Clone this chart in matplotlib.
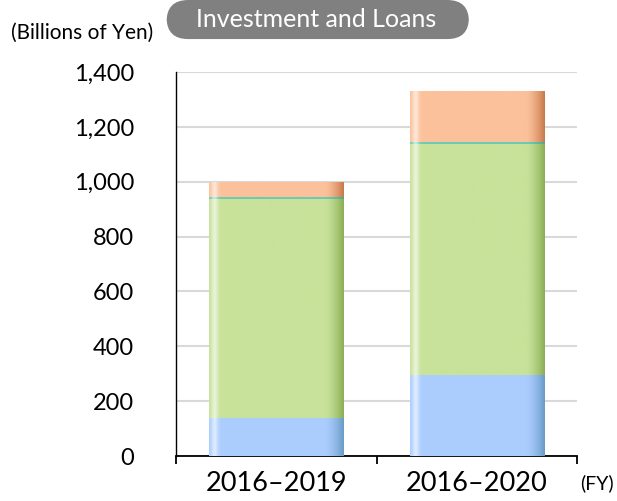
import numpy as np
import matplotlib
matplotlib.use("Agg")
import matplotlib.pyplot as plt
from matplotlib.colors import to_rgb
from matplotlib.patches import FancyBboxPatch

plt.rcParams['font.family'] = ['Lato', 'DejaVu Sans']

# data (billions of yen)
periods = ['2016\u20132019', '2016\u20132020']
blue_vals = [140, 295]
green_vals = [798, 843]
teal_vals = [5, 5]
orange_vals = [57, 188]

# base colour, right-edge dark colour
layers = [
    (blue_vals, '#abcdfe', '#6a9cc8'),
    (green_vals, '#c8e29a', '#8aae55'),
    (teal_vals, '#6ccbb0', '#4fa890'),
    (orange_vals, '#fbc19b', '#c8794a'),
]

fig = plt.figure(figsize=(6.17, 5.01), dpi=100)
ax = fig.add_axes([0.2853, 0.0898, 0.6499, 0.7665])

x = np.arange(len(periods))
bottom = np.zeros(len(periods))


def shade(patch, base, dark):
    # horizontal gradient: light strip on the left, darker toward the right
    n = 200
    t = np.linspace(0, 1, n)
    b = np.array(to_rgb(base))
    d = np.array(to_rgb(dark))
    w = np.ones(3)
    img = np.tile(b, (n, 1))
    hl = np.exp(-((t - 0.04) / 0.025) ** 2)
    img = img * (1 - 0.6 * hl[:, None]) + w * 0.6 * hl[:, None]
    dk = np.clip((t - 0.86) / 0.14, 0, 1) ** 1.5
    img = img * (1 - dk[:, None]) + d * dk[:, None]
    bb = patch.get_bbox()
    im = ax.imshow(img[None, :, :], extent=[bb.x0, bb.x1, bb.y0, bb.y1],
                   aspect='auto', zorder=3, interpolation='bilinear')
    im.set_clip_path(patch)


for vals, base, dark in layers:
    bars = ax.bar(x, vals, 0.67, bottom=bottom, color=base, zorder=2, linewidth=0)
    for p in bars:
        shade(p, base, dark)
    bottom += np.array(vals)

ax.set_xlim(-0.5, 1.5)
ax.set_ylim(0, 1400)
ax.set_yticks(range(0, 1401, 200))
ax.set_yticklabels([f'{v:,}' for v in range(0, 1401, 200)], fontsize=17)
ax.tick_params(axis='y', length=0, pad=30)
ax.yaxis.grid(True, color='#d9d9d9', linewidth=1.5, zorder=0)
ax.set_axisbelow(True)

ax.set_xticks([-0.5, 0.5, 1.5])
ax.set_xticklabels([])
ax.set_xticks(x, minor=True)
ax.set_xticklabels(periods, minor=True, fontsize=19.5)
ax.tick_params(axis='x', which='major', length=6, width=1.3, direction='out')
ax.tick_params(axis='x', which='minor', length=0, pad=11)

for s in ['top', 'right']:
    ax.spines[s].set_visible(False)
ax.spines['left'].set_linewidth(1.0)
ax.spines['bottom'].set_linewidth(1.3)

fig.text(0.018, 0.934, '(Billions of Yen)', fontsize=15, va='center', ha='left')
fig.text(0.995, 0.036, '(FY)', fontsize=14, va='center', ha='right')

box = FancyBboxPatch((0.27, 0.922), 0.49, 0.078, boxstyle='round,pad=0,rounding_size=0.035',
                     transform=fig.transFigure, facecolor='#808080', edgecolor='none',
                     mutation_aspect=617 / 501)
fig.patches.append(box)
fig.text(0.513, 0.962, 'Investment and Loans', fontsize=18, color='white', ha='center', va='center')

fig.savefig('out.png', dpi=100)
